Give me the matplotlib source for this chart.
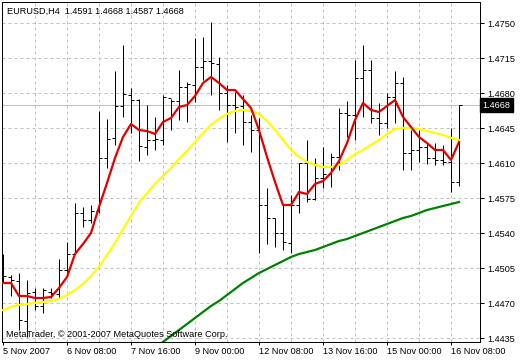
import numpy as np
import matplotlib
matplotlib.use('Agg')
import matplotlib.pyplot as plt

plt.rcParams['font.family'] = ['Liberation Sans', 'DejaVu Sans']

# EURUSD H4 bars, 5 Nov 2007 00:00 .. 16 Nov 2007 12:00 (weekend skipped)
opens = [1.4503, 1.4496, 1.4492, 1.4452, 1.4481, 1.4467, 1.4481, 1.4479, 1.4503, 1.4519,
         1.4560, 1.4553, 1.4562, 1.4615, 1.4635, 1.4667, 1.4678, 1.4673, 1.4626, 1.4633,
         1.4633, 1.4675, 1.4672, 1.4686, 1.4688, 1.4706, 1.4712, 1.4709, 1.4680, 1.4668,
         1.4667, 1.4651, 1.4643, 1.4568, 1.4555, 1.4540, 1.4530, 1.4568, 1.4610, 1.4574,
         1.4595, 1.4599, 1.4616, 1.4660, 1.4658, 1.4695, 1.4703, 1.4655, 1.4650, 1.4676,
         1.4690, 1.4620, 1.4623, 1.4626, 1.4615, 1.4613, 1.4611, 1.4591]
highs = [1.4519, 1.4498, 1.4500, 1.4493, 1.4485, 1.4485, 1.4485, 1.4514, 1.4531, 1.4570,
         1.4566, 1.4568, 1.4662, 1.4654, 1.4702, 1.4728, 1.4685, 1.4674, 1.4668, 1.4656,
         1.4678, 1.4674, 1.4703, 1.4691, 1.4735, 1.4736, 1.4751, 1.4716, 1.4688, 1.4681,
         1.4678, 1.4658, 1.4655, 1.4585, 1.4555, 1.4568, 1.4578, 1.4610, 1.4633, 1.4615,
         1.4626, 1.4620, 1.4665, 1.4672, 1.4713, 1.4728, 1.4713, 1.4670, 1.4680, 1.4702,
         1.4696, 1.4643, 1.4643, 1.4630, 1.4630, 1.4628, 1.4645, 1.4668]
lows = [1.4491, 1.4477, 1.4443, 1.4436, 1.4463, 1.4460, 1.4475, 1.4475, 1.4500, 1.4519,
        1.4546, 1.4550, 1.4560, 1.4605, 1.4628, 1.4656, 1.4640, 1.4612, 1.4618, 1.4623,
        1.4628, 1.4643, 1.4653, 1.4651, 1.4671, 1.4693, 1.4678, 1.4663, 1.4631, 1.4640,
        1.4628, 1.4621, 1.4520, 1.4529, 1.4526, 1.4523, 1.4520, 1.4560, 1.4571, 1.4573,
        1.4585, 1.4586, 1.4603, 1.4636, 1.4633, 1.4656, 1.4650, 1.4638, 1.4645, 1.4650,
        1.4603, 1.4603, 1.4611, 1.4609, 1.4608, 1.4608, 1.4581, 1.4587]
closes = [1.4497, 1.4493, 1.4453, 1.4480, 1.4467, 1.4483, 1.4480, 1.4503, 1.4519, 1.4560,
          1.4553, 1.4562, 1.4615, 1.4634, 1.4667, 1.4679, 1.4673, 1.4627, 1.4633, 1.4634,
          1.4676, 1.4672, 1.4686, 1.4689, 1.4706, 1.4712, 1.4710, 1.4680, 1.4668, 1.4666,
          1.4651, 1.4643, 1.4568, 1.4555, 1.4540, 1.4531, 1.4568, 1.4610, 1.4574, 1.4595,
          1.4599, 1.4616, 1.4660, 1.4658, 1.4695, 1.4703, 1.4655, 1.4650, 1.4676, 1.4690,
          1.4620, 1.4623, 1.4626, 1.4615, 1.4613, 1.4611, 1.4591, 1.4668]

# moving averages as drawn on the chart
ma_fast = [1.4490, 1.4490, 1.4477, 1.4477, 1.4475, 1.4475, 1.4476, 1.4485, 1.4496, 1.4519,
           1.4529, 1.4540, 1.4566, 1.4590, 1.4615, 1.4636, 1.4649, 1.4643, 1.4642, 1.4639,
           1.4651, 1.4655, 1.4666, 1.4668, 1.4677, 1.4690, 1.4696, 1.4690, 1.4683, 1.4683,
           1.4674, 1.4665, 1.4643, 1.4616, 1.4591, 1.4568, 1.4568, 1.4581, 1.4579, 1.4589,
           1.4592, 1.4600, 1.4612, 1.4630, 1.4653, 1.4670, 1.4663, 1.4661, 1.4667, 1.4673,
           1.4656, 1.4646, 1.4636, 1.4630, 1.4623, 1.4623, 1.4613, 1.4631]
ma_mid = [1.4463, 1.4466, 1.4468, 1.4469, 1.4470, 1.4471, 1.4472, 1.4474, 1.4478, 1.4483,
          1.4489, 1.4497, 1.4506, 1.4518, 1.4530, 1.4544, 1.4557, 1.4570, 1.4580, 1.4589,
          1.4597, 1.4605, 1.4614, 1.4622, 1.4631, 1.4640, 1.4648, 1.4654, 1.4659, 1.4662,
          1.4663, 1.4662, 1.4659, 1.4652, 1.4643, 1.4633, 1.4623, 1.4616, 1.4611, 1.4608,
          1.4606, 1.4606, 1.4608, 1.4613, 1.4619, 1.4623, 1.4628, 1.4633, 1.4639, 1.4644,
          1.4645, 1.4645, 1.4644, 1.4642, 1.4640, 1.4638, 1.4635, 1.4633]
ma_slow = [np.nan] * 19 + [
    1.4425, 1.4431, 1.4437, 1.4443, 1.4449, 1.4455, 1.4461, 1.4467, 1.4472, 1.4478,
    1.4484, 1.4490, 1.4495, 1.4500, 1.4504, 1.4508, 1.4512, 1.4516, 1.4519, 1.4521,
    1.4523, 1.4526, 1.4529, 1.4532, 1.4534, 1.4537, 1.4540, 1.4543, 1.4546, 1.4549,
    1.4552, 1.4555, 1.4557, 1.4560, 1.4563, 1.4565, 1.4567, 1.4569, 1.4571]

time_ticks = [0, 8, 16, 24, 32, 40, 48, 56]
time_labels = ['5 Nov 2007', '6 Nov 08:00', '7 Nov 16:00', '9 Nov 00:00',
               '12 Nov 08:00', '13 Nov 16:00', '15 Nov 00:00', '16 Nov 08:00']
price_ticks = [1.4435, 1.4470, 1.4505, 1.4540, 1.4575, 1.4610, 1.4645, 1.4680, 1.4715, 1.4750]
last_price = 1.4668

px = 0.72  # one pixel in points at 100 dpi
fig = plt.figure(figsize=(5.2, 3.6), dpi=100)
ax = fig.add_axes([2 / 520, 18 / 360, 478 / 520, 340 / 360])

x = np.arange(len(closes))
ax.set_xlim(-0.125, 59.625)
ax.set_ylim(1.4431, 1.4771)

# grid
for p in price_ticks:
    ax.axhline(p, color='#c0c0c0', lw=px, linestyle=(0, (3, 3)), zorder=0.5)
for g in range(4, len(closes), 4):
    ax.axvline(g, color='#c0c0c0', lw=px, linestyle=(0, (3, 3)), zorder=0.5)

ax.axhline(last_price, color='#c0c0c0', lw=px, zorder=1)

# OHLC bars
ax.vlines(x, lows, highs, color='black', lw=px, zorder=2)
ax.hlines(opens, x - 0.35, x, color='black', lw=px, zorder=2)
ax.hlines(closes, x, x + 0.35, color='black', lw=px, zorder=2)

ax.plot(x, ma_mid, color='#ffff00', lw=1.6, zorder=3)
ax.plot(x, ma_fast, color='#e00000', lw=1.6, zorder=4)
ax.plot(x, ma_slow, color='#008000', lw=1.6, zorder=5)

ax.yaxis.tick_right()
ax.set_yticks(price_ticks)
ax.set_yticklabels([f'{p:.4f}' for p in price_ticks])
ax.set_xticks(time_ticks)
ax.set_xticklabels(time_labels, ha='left')
ax.tick_params(axis='y', direction='out', length=3, width=px, pad=2, labelsize=6.6)
ax.tick_params(axis='x', direction='out', length=2.2, width=px, pad=1.5, labelsize=6.6)
for s in ax.spines.values():
    s.set_linewidth(px)

ax.text(0.5, 1.4762, 'EURUSD,H4  1.4591 1.4668 1.4587 1.4668', fontsize=6.6,
        va='center', ha='left', zorder=6)
ax.text(0.4, 1.4439, 'MetaTrader, \u00a9 2001-2007 MetaQuotes Software Corp.', fontsize=6.6,
        va='center', ha='left', zorder=6)

ax.annotate(f'{last_price:.4f}', xy=(1.0, last_price), xycoords=('axes fraction', 'data'),
            xytext=(2, 0), textcoords='offset points', va='center', ha='left',
            fontsize=6.6, color='white', annotation_clip=False,
            bbox=dict(boxstyle='square,pad=0.25', fc='black', ec='black'))

fig.savefig('out.png', dpi=100)
